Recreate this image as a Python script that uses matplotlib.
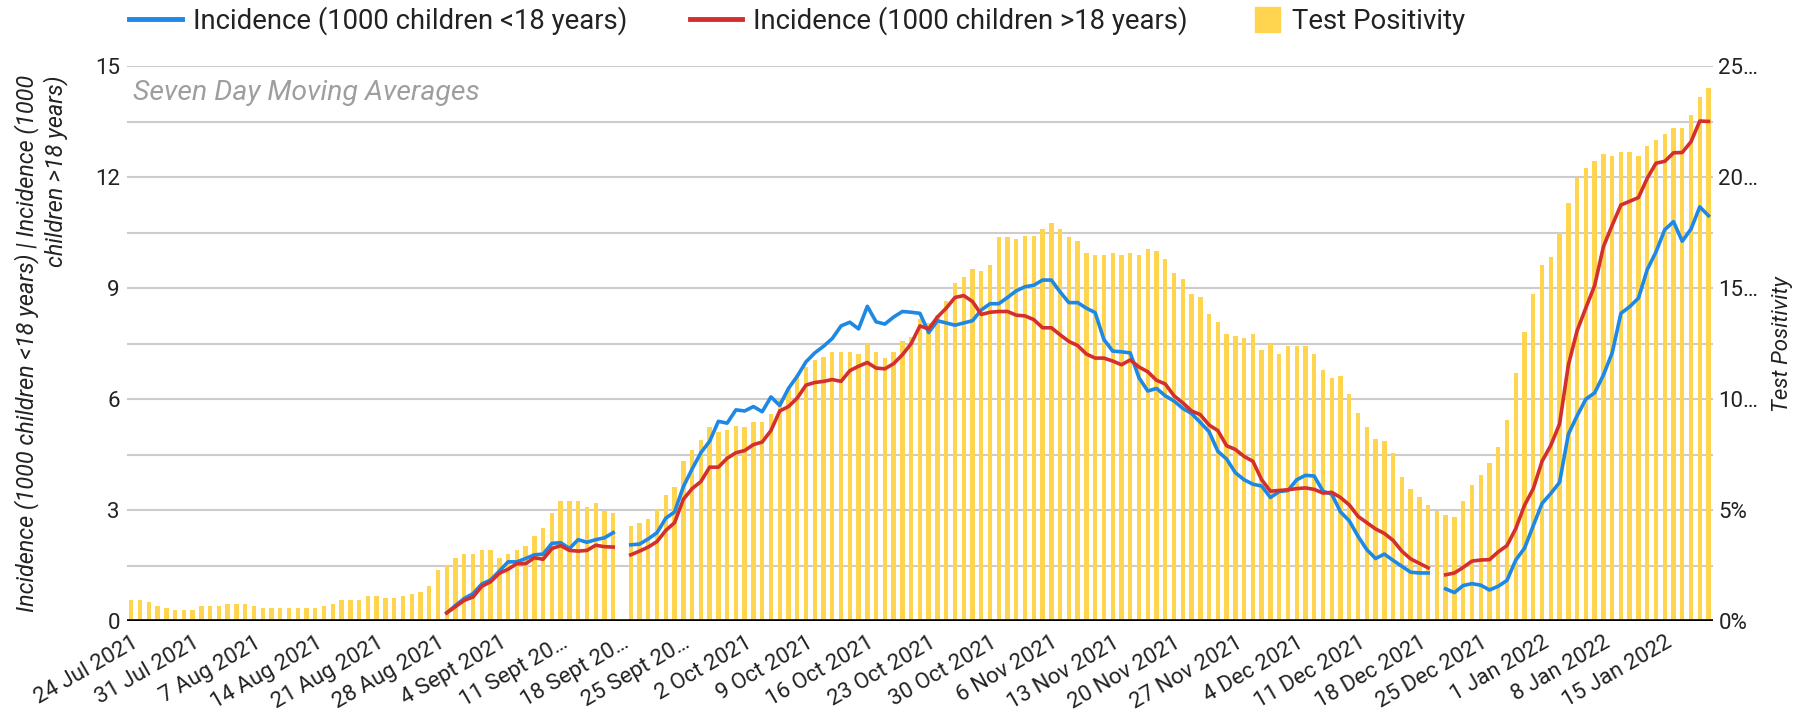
import numpy as np
import pandas as pd
import matplotlib
matplotlib.use("Agg")
import matplotlib.pyplot as plt
from matplotlib.lines import Line2D
from matplotlib.transforms import ScaledTranslation

plt.rcParams['font.family'] = ['Roboto', 'DejaVu Sans']

# daily categories, 24 Jul 2021 .. 20 Jan 2022
dates = pd.date_range("2021-07-24", "2022-01-20", freq="D")

# test positivity (%), None = no data that day
positivity = [
    0.95, 0.95, 0.87, 0.69, 0.60, 0.50, 0.50, 0.50, 0.69, 0.69,
    0.69, 0.77, 0.77, 0.77, 0.69, 0.60, 0.60, 0.60, 0.60, 0.60,
    0.60, 0.60, 0.69, 0.77, 0.95, 0.95, 0.95, 1.13, 1.13, 1.05,
    1.05, 1.13, 1.24, 1.32, 1.58, 2.29, 2.54, 2.83, 3.01, 3.01,
    3.19, 3.19, 2.83, 3.01, 3.19, 3.37, 3.82, 4.17, 4.88, 5.43,
    5.43, 5.43, 5.15, 5.33, 4.98, 4.88, None, 4.27, 4.44, 4.62,
    5.06, 5.68, 6.04, 7.20, 7.73, 8.18, 8.73, 8.53, 8.62, 8.81,
    8.73, 8.99, 8.99, 9.34, 9.97, 10.47, 11.11, 11.44, 11.76, 11.92,
    12.11, 12.11, 12.11, 12.03, 12.48, 12.11, 11.84, 12.11, 12.64, 12.80,
    13.60, 13.45, 13.77, 14.44, 15.25, 15.50, 15.86, 15.78, 16.05, 17.31,
    17.31, 17.21, 17.36, 17.36, 17.66, 17.94, 17.66, 17.31, 17.13, 16.59,
    16.50, 16.50, 16.59, 16.50, 16.59, 16.50, 16.78, 16.68, 16.33, 15.70,
    15.43, 14.72, 14.62, 13.82, 13.48, 12.93, 12.83, 12.75, 12.93, 12.21,
    12.48, 12.03, 12.38, 12.38, 12.38, 12.03, 11.32, 10.95, 11.03, 10.24,
    9.37, 8.73, 8.20, 8.10, 7.57, 6.49, 5.96, 5.60, 5.23, 4.94,
    4.78, 4.70, 5.43, 6.15, 6.57, 7.12, 7.84, 9.08, 11.16, 13.03,
    14.72, 16.05, 16.41, 17.49, 18.84, 19.98, 20.43, 20.71, 21.06, 20.97,
    21.16, 21.16, 20.97, 21.42, 21.69, 21.96, 22.22, 22.22, 22.80, 23.60,
    24.00,
]

# incidence series start on 29 Aug 2021
incid_start = "2021-08-29"
incid_u18 = [
    0.22, 0.42, 0.61, 0.74, 1.00, 1.11, 1.35, 1.60, 1.60, 1.69,
    1.79, 1.81, 2.10, 2.12, 1.96, 2.20, 2.13, 2.20, 2.25, 2.39,
    None, 2.06, 2.08, 2.22, 2.39, 2.78, 2.95, 3.63, 4.11, 4.55,
    4.86, 5.40, 5.35, 5.71, 5.68, 5.80, 5.66, 6.06, 5.83, 6.29,
    6.62, 7.01, 7.25, 7.43, 7.64, 7.98, 8.08, 7.90, 8.51, 8.09,
    8.03, 8.22, 8.37, 8.35, 8.32, 7.80, 8.12, 8.06, 8.00, 8.06,
    8.12, 8.41, 8.58, 8.58, 8.75, 8.93, 9.04, 9.08, 9.22, 9.22,
    8.90, 8.61, 8.61, 8.46, 8.34, 7.61, 7.30, 7.28, 7.25, 6.58,
    6.22, 6.29, 6.09, 5.95, 5.75, 5.61, 5.37, 5.12, 4.59, 4.38,
    4.01, 3.82, 3.70, 3.65, 3.34, 3.50, 3.53, 3.82, 3.94, 3.92,
    3.51, 3.43, 2.95, 2.71, 2.29, 1.93, 1.69, 1.81, 1.64, 1.48,
    1.32, 1.30, 1.30, None, 0.87, 0.77, 0.96, 1.01, 0.97, 0.84,
    0.94, 1.10, 1.65, 1.97, 2.58, 3.18, 3.45, 3.75, 5.05, 5.55,
    6.00, 6.17, 6.65, 7.25, 8.32, 8.50, 8.73, 9.50, 9.98, 10.58,
    10.80, 10.27, 10.60, 11.20, 10.96,
]
incid_o18 = [
    0.22, 0.39, 0.56, 0.65, 0.94, 1.06, 1.29, 1.40, 1.55, 1.55,
    1.71, 1.67, 1.96, 2.04, 1.91, 1.89, 1.91, 2.05, 2.01, 2.00,
    None, 1.79, 1.89, 2.00, 2.15, 2.45, 2.66, 3.29, 3.58, 3.77,
    4.16, 4.16, 4.40, 4.55, 4.61, 4.77, 4.84, 5.15, 5.68, 5.80,
    6.03, 6.38, 6.45, 6.48, 6.53, 6.48, 6.77, 6.89, 6.99, 6.84,
    6.82, 6.96, 7.20, 7.50, 7.98, 7.90, 8.22, 8.46, 8.75, 8.80,
    8.64, 8.29, 8.35, 8.37, 8.37, 8.27, 8.25, 8.15, 7.93, 7.93,
    7.74, 7.56, 7.45, 7.22, 7.11, 7.11, 7.03, 6.93, 7.06, 6.87,
    6.74, 6.51, 6.41, 6.09, 5.90, 5.68, 5.58, 5.30, 5.15, 4.74,
    4.64, 4.45, 4.32, 3.82, 3.51, 3.53, 3.55, 3.58, 3.60, 3.56,
    3.46, 3.48, 3.34, 3.14, 2.83, 2.66, 2.49, 2.37, 2.18, 1.89,
    1.68, 1.56, 1.44, None, 1.25, 1.30, 1.45, 1.62, 1.65, 1.66,
    1.87, 2.04, 2.50, 3.13, 3.58, 4.32, 4.75, 5.33, 6.92, 7.85,
    8.47, 9.07, 10.12, 10.70, 11.25, 11.35, 11.45, 11.97, 12.38, 12.43,
    12.66, 12.67, 12.96, 13.52, 13.51,
]

date_labels = [
    "24 Jul 2021", "31 Jul 2021", "7 Aug 2021", "14 Aug 2021", "21 Aug 2021",
    "28 Aug 2021", "4 Sept 2021", "11 Sept 20…", "18 Sept 20…", "25 Sept 20…",
    "2 Oct 2021", "9 Oct 2021", "16 Oct 2021", "23 Oct 2021", "30 Oct 2021",
    "6 Nov 2021", "13 Nov 2021", "20 Nov 2021", "27 Nov 2021", "4 Dec 2021",
    "11 Dec 2021", "18 Dec 2021", "25 Dec 2021", "1 Jan 2022", "8 Jan 2022",
    "15 Jan 2022",
]
left_ticks = [0, 3, 6, 9, 12, 15]
right_ticks = [0, 5, 10, 15, 20, 25]
right_tick_labels = ["0%", "5%", "10…", "15…", "20…", "25…"]

BLUE = "#1e88e5"
RED = "#d32f2f"
YELLOW = "#ffd54f"
TXT = "#222222"

x = np.arange(len(dates))
pos = np.array([np.nan if v is None else v for v in positivity])
u18 = np.array([np.nan if v is None else v for v in incid_u18])
o18 = np.array([np.nan if v is None else v for v in incid_o18])
x_inc = dates.get_loc(pd.Timestamp(incid_start)) + np.arange(len(u18))

fig = plt.figure(figsize=(18.13, 7.13), dpi=100)
ax = fig.add_axes([0.070, 0.129, 0.8748, 0.778])
ax2 = ax.twinx()

# bars: test positivity on the right-hand axis
ok = ~np.isnan(pos)
ax.bar(x[ok], pos[ok], width=0.5, color=YELLOW, zorder=1)
ax.set_ylim(0, 25)
ax.set_xlim(-0.5, len(dates) - 0.5)
grid_vals = np.arange(0, 25.1, 2.5)
ax.set_yticks(grid_vals)
ax.set_yticklabels([right_tick_labels[right_ticks.index(int(t))] if t in right_ticks else ""
                    for t in grid_vals])
ax.yaxis.tick_right()
ax.yaxis.set_label_position("right")
ax.grid(axis="y", color="#cccccc", lw=1.5)
ax.set_axisbelow(True)
ax.axhline(0, color="black", lw=2.6, zorder=3)
ax.set_ylabel("Test Positivity", fontsize=16, style="italic", color=TXT)
ax.yaxis.set_label_coords(1.037, 0.5)

ax.set_xticks(x[::7])
ax.set_xticklabels(date_labels, rotation=30, ha="right", rotation_mode="anchor")
shift = ScaledTranslation(-0.05, 0, fig.dpi_scale_trans)
for lbl in ax.get_xticklabels():
    lbl.set_transform(lbl.get_transform() + shift)

# lines: incidence on the left-hand axis
ax2.plot(x_inc, u18, color=BLUE, lw=2.6, solid_joinstyle="round")
ax2.plot(x_inc, o18, color=RED, lw=2.6, solid_joinstyle="round")
ax2.set_ylim(0, 15)
ax2.set_yticks(left_ticks)
ax2.yaxis.tick_left()
ax2.yaxis.set_label_position("left")
ax2.set_ylabel("Incidence (1000 children <18 years) | Incidence (1000\nchildren >18 years)",
               fontsize=16.8, style="italic", color=TXT, multialignment="right",
               linespacing=1.25)
ax2.yaxis.set_label_coords(-0.037, 0.5)

for a in (ax, ax2):
    for s in a.spines.values():
        s.set_visible(False)
ax.tick_params(axis="x", length=0, pad=8, labelsize=16, labelcolor=TXT)
ax.tick_params(axis="y", length=0, pad=4, labelsize=16, labelcolor=TXT)
ax2.tick_params(axis="y", length=0, pad=5, labelsize=16, labelcolor=TXT)

ax.text(0.004, 0.952, "Seven Day Moving Averages", transform=ax.transAxes,
        fontsize=20.4, style="italic", color="#9e9e9e", va="center", ha="left")

# legend: two line entries, then the bar entry with a square swatch
line_handles = [Line2D([], [], color=BLUE, lw=3.5), Line2D([], [], color=RED, lw=3.5)]
fig.legend(line_handles, ["Incidence (1000 children <18 years)",
                          "Incidence (1000 children >18 years)"],
           loc="center left", bbox_to_anchor=(0.0713, 0.9705), ncol=2, frameon=False,
           fontsize=19.8, handlelength=1.9, columnspacing=2.3, handletextpad=0.4,
           borderpad=0, borderaxespad=0, labelcolor=TXT)
fig.legend([Line2D([], [], marker="s", ls="", markersize=18, color=YELLOW)],
           ["Test Positivity"],
           loc="center left", bbox_to_anchor=(0.6922, 0.9705), frameon=False,
           fontsize=19.8, handlelength=0.9, handletextpad=0.45,
           borderpad=0, borderaxespad=0, labelcolor=TXT)

fig.savefig("out.png", dpi=100)
